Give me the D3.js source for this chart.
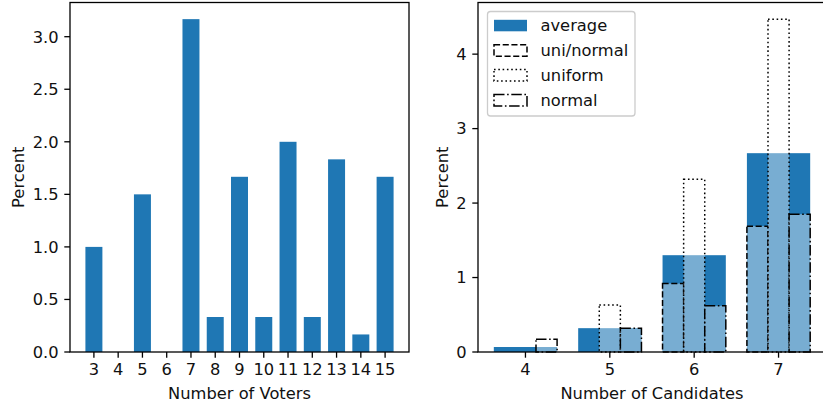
<!DOCTYPE html>
<html>
<head>
<meta charset="utf-8">
<script src="https://cdn.jsdelivr.net/npm/d3@7"></script>
<style>
  body { margin: 0; background: #fff; }
  svg { display: block; font-family: "DejaVu Sans", sans-serif; }
</style>
</head>
<body>
<svg id="chart" width="823" height="405"></svg>
<script>
const voters = [3, 4, 5, 6, 7, 8, 9, 10, 11, 12, 13, 14, 15];
const voterPct = [1.0, 0, 1.5, 0, 3.167, 0.333, 1.667, 0.333, 2.0, 0.333, 1.833, 0.167, 1.667];

const candidates = [4, 5, 6, 7];
const average = [0.067, 0.32, 1.3, 2.67];
const uniNormal = [0, 0, 0.92, 1.69];
const uniform = [0, 0.63, 2.32, 4.47];
const normal = [0.17, 0.32, 0.62, 1.85];

const leftTicks = [0, 0.5, 1.0, 1.5, 2.0, 2.5, 3.0];
const rightTicks = [0, 1, 2, 3, 4];

const blue = "#1f77b4";
const fontSize = 16.3;
const tickLen = 5.7, tickPad = 5.7;
const plotTop = 2.5, plotBottom = 352;

const svg = d3.select("#chart");

function frame(g, x0, x1) {
    g.append("rect")
        .attr("x", x0).attr("y", plotTop)
        .attr("width", x1 - x0).attr("height", plotBottom - plotTop)
        .attr("fill", "none").attr("stroke", "#000").attr("stroke-width", 1.3);
}

function yAxis(g, y, ticks, x0, fmt) {
    const t = g.selectAll(".ytick").data(ticks).enter().append("g");
    t.append("line")
        .attr("x1", x0 - tickLen).attr("x2", x0)
        .attr("y1", d => y(d)).attr("y2", d => y(d))
        .attr("stroke", "#000").attr("stroke-width", 1.3);
    t.append("text")
        .attr("x", x0 - tickLen - tickPad).attr("y", d => y(d))
        .attr("dy", "0.36em")
        .attr("text-anchor", "end")
        .attr("font-size", fontSize)
        .attr("fill", "#111")
        .text(fmt);
}

function xAxis(g, x, ticks) {
    const t = g.selectAll(".xtick").data(ticks).enter().append("g");
    t.append("line")
        .attr("x1", d => x(d)).attr("x2", d => x(d))
        .attr("y1", plotBottom).attr("y2", plotBottom + tickLen)
        .attr("stroke", "#000").attr("stroke-width", 1.3);
    t.append("text")
        .attr("x", d => x(d)).attr("y", 375)
        .attr("text-anchor", "middle")
        .attr("font-size", fontSize)
        .attr("fill", "#111")
        .text(d => d);
}

function labels(g, cx, xl, yx) {
    g.append("text")
        .attr("x", cx).attr("y", 399)
        .attr("text-anchor", "middle")
        .attr("font-size", fontSize).attr("fill", "#111")
        .text(xl);
    g.append("text")
        .attr("transform", "translate(" + yx + "," + (plotTop + plotBottom) / 2 + ") rotate(-90)")
        .attr("text-anchor", "middle")
        .attr("font-size", fontSize).attr("fill", "#111")
        .text("Percent");
}

// left panel: number of voters
(function() {
    const g = svg.append("g");
    const w = 0.7;
    const lo = d3.min(voters) - w / 2, hi = d3.max(voters) + w / 2;
    const pad = (hi - lo) * 0.05;
    const x = d3.scaleLinear().domain([lo - pad, hi + pad]).range([70, 409]);
    const y = d3.scaleLinear().domain([0, d3.max(voterPct) * 1.05]).range([plotBottom, plotTop]);

    g.selectAll(".bar")
        .data(voters)
        .enter()
        .append("rect")
        .attr("x", d => x(d - w / 2))
        .attr("width", d => x(d + w / 2) - x(d - w / 2))
        .attr("y", (d, i) => y(voterPct[i]))
        .attr("height", (d, i) => y(0) - y(voterPct[i]))
        .attr("fill", blue);

    frame(g, 70, 409);
    yAxis(g, y, leftTicks, 70, d3.format(".1f"));
    xAxis(g, x, voters);
    labels(g, 239.5, "Number of Voters", 24);
})();

// right panel: number of candidates
(function() {
    const g = svg.append("g");
    const w = 0.75, sw = 0.25;
    const lo = d3.min(candidates) - w / 2, hi = d3.max(candidates) + w / 2;
    const pad = (hi - lo) * 0.05;
    const x = d3.scaleLinear().domain([lo - pad, hi + pad]).range([478, 826]);
    const y = d3.scaleLinear().domain([0, d3.max(uniform) * 1.05]).range([plotBottom, plotTop]);

    g.selectAll(".avg")
        .data(candidates)
        .enter()
        .append("rect")
        .attr("x", d => x(d - w / 2))
        .attr("width", d => x(d + w / 2) - x(d - w / 2))
        .attr("y", (d, i) => y(average[i]))
        .attr("height", (d, i) => y(0) - y(average[i]))
        .attr("fill", blue);

    const series = [
        { name: "uni/normal", values: uniNormal, offset: -0.25, dash: "6.1,2.6" },
        { name: "uniform", values: uniform, offset: 0, dash: "1.6,2.7" },
        { name: "normal", values: normal, offset: 0.25, dash: "10.5,2.6,1.6,2.6" }
    ];

    series.forEach(function(s) {
        g.selectAll(".sub")
            .data(candidates)
            .enter()
            .append("rect")
            .attr("x", d => x(d + s.offset - sw / 2))
            .attr("width", d => x(d + s.offset + sw / 2) - x(d + s.offset - sw / 2))
            .attr("y", (d, i) => y(s.values[i]))
            .attr("height", (d, i) => y(0) - y(s.values[i]))
            .attr("fill", "#fff").attr("fill-opacity", 0.4)
            .attr("stroke", "#000").attr("stroke-width", 1.5)
            .attr("stroke-dasharray", s.dash);
    });

    frame(g, 478, 826);
    yAxis(g, y, rightTicks, 478, d => d);
    xAxis(g, x, candidates);
    labels(g, 652, "Number of Candidates", 448);

    // legend
    const lg = g.append("g");
    lg.append("rect")
        .attr("x", 487.5).attr("y", 11.5)
        .attr("width", 147.5).attr("height", 104.5)
        .attr("rx", 3)
        .attr("fill", "#fff").attr("fill-opacity", 0.8)
        .attr("stroke", "#ccc").attr("stroke-width", 1.3);

    const entries = [{ name: "average", fill: blue, dash: null }].concat(series);
    const row = lg.selectAll(".entry")
        .data(entries)
        .enter()
        .append("g")
        .attr("transform", (d, i) => "translate(0," + (25.6 + i * 24.9) + ")");
    row.append("rect")
        .attr("x", 494).attr("y", -5.8)
        .attr("width", 33).attr("height", 11.5)
        .attr("fill", d => d.fill || "none")
        .attr("stroke", d => d.fill ? "none" : "#000")
        .attr("stroke-width", 1.5)
        .attr("stroke-dasharray", d => d.dash);
    row.append("text")
        .attr("x", 540.5).attr("dy", "0.36em")
        .attr("font-size", fontSize).attr("fill", "#111")
        .text(d => d.name);
})();
</script>
</body>
</html>
